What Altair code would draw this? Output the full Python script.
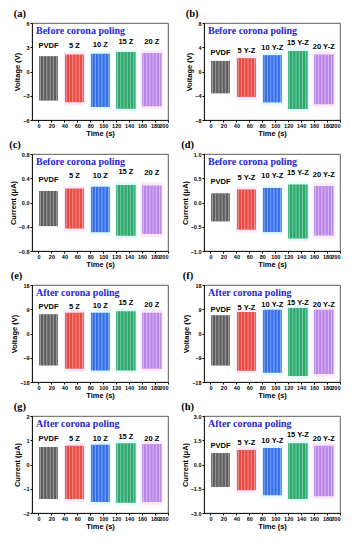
import altair as alt
import pandas as pd

# ---- shared data ----
starts = [1, 41, 81, 120, 160]
ends = [30, 70, 110, 150, 190]
spike_offsets = [2, 7, 12, 17, 22, 27]
colors = ["#4d4d4d", "#e8392f", "#1f5fe6", "#16a05c", "#b47ce6"]
halos = ["none", "#ffd9f2", "#d2f6fb", "#d2f6fb", "#ffd9f2"]
names_z = ["PVDF", "5 Z", "10 Z", "15 Z", "20 Z"]
names_yz = ["PVDF", "5 Y-Z", "10 Y-Z", "15 Y-Z", "20 Y-Z"]
x_ticks = [0, 20, 40, 60, 80, 100, 120, 140, 160, 180, 200]

# (a) voltage, before poling, Z
a_top = [1.9, 2.1, 2.2, 2.4, 2.3]
a_bot = [-3.6, -3.8, -4.4, -4.6, -4.3]
a_lab = [3.2, 3.2, 3.3, 3.7, 3.7]
# (b) voltage, before poling, Y-Z
b_top = [1.75, 2.2, 2.7, 3.4, 2.8]
b_bot = [-3.6, -4.2, -5.1, -6.2, -5.4]
b_lab = [3.0, 3.3, 3.8, 4.7, 4.1]
# (c) current, before poling, Z
c_top = [0.19, 0.23, 0.26, 0.29, 0.28]
c_bot = [-0.39, -0.43, -0.49, -0.55, -0.52]
c_lab = [0.37, 0.43, 0.43, 0.50, 0.48]
# (d) current, before poling, Y-Z
d_top = [0.19, 0.27, 0.30, 0.37, 0.34]
d_bot = [-0.39, -0.56, -0.61, -0.74, -0.68]
d_lab = [0.42, 0.51, 0.55, 0.61, 0.57]
# (e) voltage, after poling, Z
e_top = [7.1, 7.7, 7.7, 8.3, 7.7]
e_bot = [-11.9, -13.1, -13.7, -13.7, -13.1]
e_lab = [9.9, 9.9, 10.1, 11.3, 10.7]
# (f) voltage, after poling, Y-Z
f_top = [6.8, 8.0, 8.8, 9.5, 8.8]
f_bot = [-11.9, -13.8, -14.6, -15.8, -15.0]
f_lab = [8.7, 9.5, 10.4, 11.3, 10.4]
# (g) current, after poling, Z
g_top = [0.72, 0.77, 0.81, 0.88, 0.85]
g_bot = [-1.42, -1.42, -1.55, -1.58, -1.55]
g_lab = [1.04, 1.04, 1.04, 1.15, 1.05]
# (h) current, after poling, Y-Z
h_top = [0.71, 0.90, 1.02, 1.31, 1.16]
h_bot = [-1.39, -1.59, -1.90, -2.14, -1.96]
h_lab = [1.12, 1.31, 1.47, 1.84, 1.57]

PW, PH = 136, 97


def make_panel(tag, title, ytitle, dom, yticks, yfmt, names, tops, bots, labs):
    span = dom[1] - dom[0]
    bursts = pd.DataFrame({
        "name": names, "x0": starts, "x1": ends, "top": tops, "bot": bots,
        "ly": labs, "color": colors, "halo": halos,
    })
    bursts["xm"] = (bursts["x0"] + bursts["x1"]) / 2
    halo_df = bursts[bursts["halo"] != "none"].copy()
    halo_df["hx0"] = halo_df["x0"] - 2
    halo_df["hx1"] = halo_df["x1"] + 2
    halo_df["hb"] = halo_df["bot"] - 0.03 * span
    halo_df["ht"] = halo_df["top"] + 0.03 * span
    rows = []
    for _, r in bursts.iterrows():
        for o in spike_offsets:
            rows.append({"xs": r["x0"] + o, "top": r["top"], "bot": r["bot"]})
    spikes = pd.DataFrame(rows)

    xs = alt.Scale(domain=[-10, 200], nice=False, zero=False)
    ys = alt.Scale(domain=dom, nice=False, zero=False)
    xax = alt.Axis(values=x_ticks, format="d", title="Time (s)", grid=False, labelOverlap=False)
    yax = alt.Axis(values=yticks, format=yfmt, title=ytitle, grid=False, labelOverlap=False)

    halo = alt.Chart(halo_df).mark_rect(opacity=0.6).encode(
        x=alt.X("hx0:Q", scale=xs, axis=xax), x2="hx1:Q",
        y=alt.Y("hb:Q", scale=ys, axis=yax), y2="ht:Q",
        color=alt.Color("halo:N", scale=None),
    )
    body = alt.Chart(bursts).mark_rect(opacity=0.9).encode(
        x=alt.X("x0:Q", scale=xs, axis=xax), x2="x1:Q",
        y=alt.Y("bot:Q", scale=ys, axis=yax), y2="top:Q",
        color=alt.Color("color:N", scale=None),
    )
    streaks = alt.Chart(spikes).mark_rule(color="white", opacity=0.4, strokeWidth=1).encode(
        x=alt.X("xs:Q", scale=xs, axis=xax),
        y=alt.Y("bot:Q", scale=ys, axis=yax), y2="top:Q",
    )
    labels = alt.Chart(bursts).mark_text(
        font="Liberation Sans", fontWeight="bold", fontSize=7.5, color="black", baseline="middle"
    ).encode(
        x=alt.X("xm:Q", scale=xs, axis=xax),
        y=alt.Y("ly:Q", scale=ys, axis=yax),
        text="name:N",
    )
    head = alt.Chart(pd.DataFrame({"t": [title]})).mark_text(
        font="Liberation Serif", fontWeight="bold", fontSize=10, color="#2a1fd0",
        align="left", baseline="top",
    ).encode(x=alt.value(4), y=alt.value(3), text="t:N")

    return alt.layer(halo, body, streaks, labels, head).properties(
        width=PW, height=PH,
        title=alt.TitleParams(
            text=tag, anchor="start", frame="bounds", font="Liberation Serif",
            fontSize=10.5, fontWeight="bold", offset=2, color="black",
        ),
    )


before = "Before corona poling"
after = "After corona poling"
panels = [
    make_panel("(a)", before, "Voltage (V)", [-6, 6], [-6, -3, 0, 3, 6], "d", names_z, a_top, a_bot, a_lab),
    make_panel("(b)", before, "Voltage (V)", [-8, 8], [-8, -4, 0, 4, 8], "d", names_yz, b_top, b_bot, b_lab),
    make_panel("(c)", before, "Current (μA)", [-0.8, 0.8], [-0.8, -0.4, 0.0, 0.4, 0.8], ".1f", names_z, c_top, c_bot, c_lab),
    make_panel("(d)", before, "Current (μA)", [-1.0, 1.0], [-1.0, -0.5, 0.0, 0.5, 1.0], ".1f", names_yz, d_top, d_bot, d_lab),
    make_panel("(e)", after, "Voltage (V)", [-18, 18], [-18, -9, 0, 9, 18], "d", names_z, e_top, e_bot, e_lab),
    make_panel("(f)", after, "Voltage (V)", [-18, 18], [-18, -9, 0, 9, 18], "d", names_yz, f_top, f_bot, f_lab),
    make_panel("(g)", after, "Current (μA)", [-2, 2], [-2, -1, 0, 1, 2], "d", names_z, g_top, g_bot, g_lab),
    make_panel("(h)", after, "Current (μA)", [-3.0, 3.0], [-3.0, -1.5, 0.0, 1.5, 3.0], ".1f", names_yz, h_top, h_bot, h_lab),
]

chart = alt.concat(*panels, columns=2, spacing={"row": 1, "column": 11}).properties(
    padding=0, background="white"
).configure_view(stroke="#333333", strokeWidth=0.8).configure_axis(
    domainColor="black", tickColor="black", labelColor="black", titleColor="black",
    labelFont="Liberation Sans", labelFontWeight="bold", labelFontSize=5.5,
    titleFont="Liberation Sans", titleFontWeight="bold", titleFontSize=7.5,
    tickSize=2, labelPadding=1, titlePadding=1, domainWidth=0.8,
)

chart.save("out.html", embed_options={"renderer": "svg", "actions": False})
